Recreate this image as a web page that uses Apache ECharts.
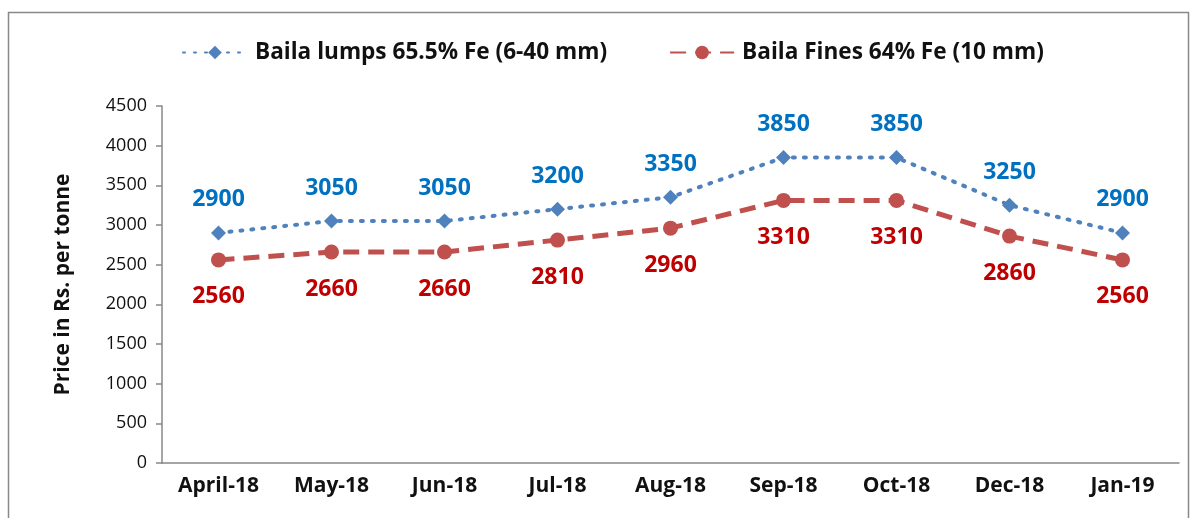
<!DOCTYPE html>
<html><head><meta charset="utf-8">
<script src="https://cdn.jsdelivr.net/npm/echarts@6/dist/echarts.min.js"></script>
<style>html,body{margin:0;padding:0;background:#fff}#c{width:1193px;height:518px}</style>
</head><body><div id="c"></div>
<script>
var categories = ['April-18','May-18','Jun-18','Jul-18','Aug-18','Sep-18','Oct-18','Dec-18','Jan-19'];
var lumps = [2900,3050,3050,3200,3350,3850,3850,3250,2900];
var fines = [2560,2660,2660,2810,2960,3310,3310,2860,2560];
var lumpsName = 'Baila lumps 65.5% Fe (6-40 mm)';
var finesName = 'Baila Fines 64% Fe (10 mm)';
var yTitle = 'Price in Rs. per tonne';
var font = '"Open Sans", sans-serif';
var chart = echarts.init(document.getElementById('c'));
chart.setOption({
  animation:false,
  textStyle:{fontFamily:font},
  graphic:[{type:'rect',shape:{x:8.5,y:12.5,width:1180,height:520},style:{fill:'none',stroke:'#888',lineWidth:1.5}}],
  legend:{top:36,left:177,itemGap:62,itemWidth:64,itemHeight:17,
    textStyle:{fontFamily:font,fontWeight:'bold',fontSize:22.6,color:'#111',padding:[0,0,0,3]},
    data:[lumpsName,finesName]},
  grid:{left:162,top:106,right:14,bottom:55},
  xAxis:{type:'category',data:categories,boundaryGap:true,
    axisLine:{lineStyle:{color:'#888',width:1.5}},
    axisTick:{alignWithLabel:true,length:6,lineStyle:{color:'#888',width:1.5}},
    axisLabel:{fontFamily:font,fontWeight:'bold',fontSize:21,color:'#111',margin:13}},
  yAxis:{type:'value',min:0,max:4500,interval:500,
    name:yTitle,nameLocation:'middle',nameGap:88,
    nameTextStyle:{fontFamily:font,fontWeight:'bold',fontSize:21,color:'#111'},
    splitLine:{show:false},
    axisLine:{show:true,lineStyle:{color:'#888',width:1.5}},
    axisTick:{show:true,length:6,lineStyle:{color:'#888',width:1.5}},
    axisLabel:{fontFamily:font,fontSize:18,color:'#111',margin:15,formatter:function(v){return String(v);}}},
  series:[
    {name:lumpsName,type:'line',data:lumps,symbol:'diamond',symbolSize:15,
      lineStyle:{color:'#4F81BD',width:4,type:[2,9],cap:'round'},
      itemStyle:{color:'#4F81BD'},
      label:{show:true,position:'top',distance:14,fontFamily:font,fontWeight:'bold',fontSize:23,color:'#0070C0'}},
    {name:finesName,type:'line',data:fines,symbol:'circle',symbolSize:15,
      lineStyle:{color:'#C0504D',width:5,type:[16,9]},
      itemStyle:{color:'#C0504D'},
      label:{show:true,position:'bottom',distance:18,fontFamily:font,fontWeight:'bold',fontSize:23,color:'#C00000'}}
  ]
});
</script></body></html>
